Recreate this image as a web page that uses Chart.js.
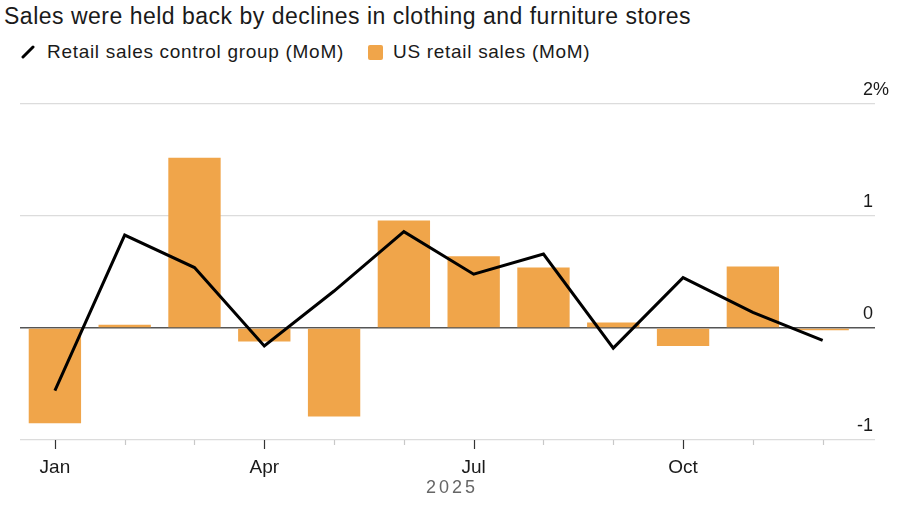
<!DOCTYPE html>
<html>
<head>
<meta charset="utf-8">
<script src="https://cdn.jsdelivr.net/npm/chart.js@4"></script>
<style>
  html, body { margin: 0; padding: 0; background: #fff; }
  body { width: 900px; height: 510px; position: relative; overflow: hidden; font-family: "Liberation Sans", Arial, sans-serif; color: #1a1a1a; }
  #title { position: absolute; left: 4px; top: 3px; font-size: 23px; letter-spacing: 0.5px; white-space: nowrap; }
  #legend { position: absolute; left: 0; top: 40px; font-size: 19px; letter-spacing: 0.7px; white-space: nowrap; height: 24px; }
  .item { position: absolute; top: 0; line-height: 24px; }
  .lineicon { position: absolute; left: 21px; top: 5px; width: 14px; height: 14px; }
  .sq { position: absolute; left: 368px; top: 5px; width: 15px; height: 15px; background: #F0A54A; border-radius: 2px; }
  #year { position: absolute; left: 426px; top: 477px; font-size: 18px; color: #666; letter-spacing: 3px; }
  #wrap { position: absolute; left: 0; top: 0; width: 900px; height: 510px; }
</style>
</head>
<body>
<div id="title">Sales were held back by declines in clothing and furniture stores</div>
<div id="legend">
  <svg class="lineicon" viewBox="0 0 14 14"><line x1="2" y1="12" x2="12" y2="2" stroke="#000" stroke-width="3" stroke-linecap="round"/></svg>
  <span class="item" style="left:47px">Retail sales control group (MoM)</span>
  <div class="sq"></div>
  <span class="item" style="left:393px">US retail sales (MoM)</span>
</div>
<div id="wrap"><canvas id="c" width="900" height="510"></canvas></div>
<div id="year">2025</div>
<script>
const months = ["Jan","Feb","Mar","Apr","May","Jun","Jul","Aug","Sep","Oct","Nov","Dec"];
const monthLabels = ["Jan","","","Apr","","","Jul","","","Oct","",""];
const retailSales = [-0.85, 0.03, 1.52, -0.12, -0.79, 0.96, 0.64, 0.54, 0.05, -0.16, 0.55, -0.02];
const controlGroup = [-0.56, 0.83, 0.54, -0.16, 0.33, 0.86, 0.48, 0.66, -0.18, 0.45, 0.14, -0.11];
const yTicks = [-1, 0, 1, 2];

const barPts = retailSales.map((v, i) => ({x: i, y: v}));
const linePts = controlGroup.map((v, i) => ({x: i, y: v}));

const customPlugin = {
  id: 'custom',
  afterDraw(chart) {
    const ctx = chart.ctx;
    const xs = chart.scales.x, ys = chart.scales.y;
    const bottom = chart.chartArea.bottom;
    ctx.save();
    // x tick marks
    months.forEach((m, i) => {
      const px = Math.round(xs.getPixelForValue(i)) + 0.5;
      const major = monthLabels[i] !== "";
      ctx.strokeStyle = major ? '#333' : '#c8c8c8';
      ctx.lineWidth = 1.2;
      ctx.beginPath();
      ctx.moveTo(px, bottom);
      ctx.lineTo(px, bottom + (major ? 9 : 5));
      ctx.stroke();
    });
    // y labels
    ctx.font = '18px "Liberation Sans", Arial, sans-serif';
    ctx.fillStyle = '#1a1a1a';
    ctx.textBaseline = 'middle';
    const rightX = chart.chartArea.right - 2;
    yTicks.forEach(v => {
      const py = ys.getPixelForValue(v) - 14;
      const num = String(v);
      const label = v === yTicks[yTicks.length - 1] ? num + '%' : num;
      const w = ctx.measureText(num).width;
      ctx.textAlign = 'left';
      ctx.fillText(label, rightX - w, py);
    });
    ctx.restore();
  }
};

new Chart(document.getElementById('c'), {
  data: {
    datasets: [
      {
        type: 'line',
        label: 'Retail sales control group (MoM)',
        data: linePts,
        borderColor: '#000',
        borderWidth: 3,
        pointRadius: 0,
        tension: 0,
        order: 0
      },
      {
        type: 'bar',
        label: 'US retail sales (MoM)',
        data: barPts,
        backgroundColor: '#F0A54A',
        borderWidth: 0,
        barPercentage: 0.75,
        categoryPercentage: 1,
        order: 1
      }
    ]
  },
  options: {
    responsive: false,
    animation: false,
    layout: { padding: { top: 104, left: 20, right: 25, bottom: 0 } },
    plugins: { legend: { display: false }, tooltip: { enabled: false } },
    scales: {
      x: {
        type: 'linear',
        offset: false,
        min: -0.5,
        max: 11.75,
        afterBuildTicks: s => { s.ticks = months.map((m, i) => ({value: i})); },
        afterFit: s => { s.height = 70; },
        grid: { drawOnChartArea: false, drawTicks: false, offset: false },
        border: { display: false },
        ticks: {
          autoSkip: false,
          maxRotation: 0,
          padding: 16,
          color: '#1a1a1a',
          font: { family: '"Liberation Sans", Arial, sans-serif', size: 19 },
          callback: (v) => monthLabels[v] !== undefined ? monthLabels[v] : ''
        }
      },
      y: {
        type: 'linear',
        position: 'right',
        min: -1,
        max: 2,
        afterBuildTicks: s => { s.ticks = yTicks.map(v => ({value: v})); },
        afterFit: s => { s.width = 0; },
        border: { display: false },
        grid: {
          drawTicks: false,
          color: c => c.tick && c.tick.value === 0 ? '#555' : '#dcdcdc',
          lineWidth: c => c.tick && c.tick.value === 0 ? 1.6 : 1.2
        },
        ticks: { display: false }
      }
    }
  },
  plugins: [customPlugin]
});
</script>
</body>
</html>
